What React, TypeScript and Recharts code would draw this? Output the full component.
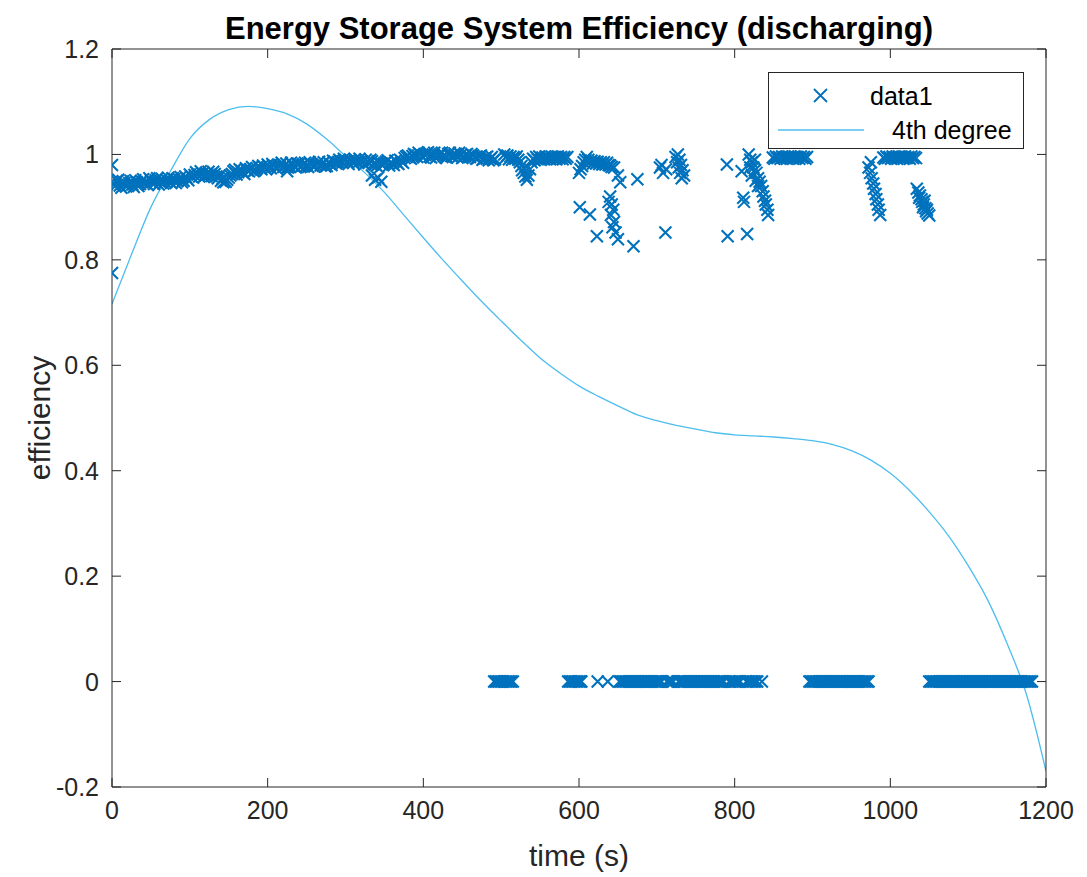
import React from 'react';
import {
  ComposedChart,
  Scatter,
  Line,
  XAxis,
  YAxis,
  Legend,
} from 'recharts';

// --- data ------------------------------------------------------------------

// dense upper band, t = 0 .. 492 s
const upperBand: [number, number][] = [
  [0, 0.948], [4, 0.94], [8, 0.952], [12, 0.937], [16, 0.946], [20, 0.942], [24, 0.95], [28, 0.938],
  [32, 0.947], [36, 0.944], [40, 0.953], [44, 0.945], [48, 0.955], [52, 0.947], [56, 0.951], [60, 0.943],
  [64, 0.954], [68, 0.948], [72, 0.956], [76, 0.946], [80, 0.953], [84, 0.949], [88, 0.957], [92, 0.95],
  [96, 0.955], [100, 0.962], [104, 0.956], [108, 0.966], [112, 0.958], [116, 0.964], [120, 0.96], [124, 0.967],
  [128, 0.959], [132, 0.963], [136, 0.955], [140, 0.95], [144, 0.957], [148, 0.952], [152, 0.96], [156, 0.968],
  [160, 0.962], [164, 0.972], [168, 0.966], [172, 0.974], [176, 0.968], [180, 0.976], [184, 0.97], [188, 0.978],
  [192, 0.972], [196, 0.975], [200, 0.981], [204, 0.974], [208, 0.979], [212, 0.973], [216, 0.98], [220, 0.976],
  [224, 0.983], [228, 0.977], [232, 0.981], [236, 0.975], [240, 0.982], [244, 0.978], [248, 0.984], [252, 0.976],
  [256, 0.981], [260, 0.977], [264, 0.983], [268, 0.979], [272, 0.985], [276, 0.978], [280, 0.982], [284, 0.988],
  [288, 0.983], [292, 0.99], [296, 0.984], [300, 0.989], [304, 0.982], [308, 0.987], [312, 0.991], [316, 0.984],
  [320, 0.988], [324, 0.981], [328, 0.986], [332, 0.99], [336, 0.983], [340, 0.978], [344, 0.984], [348, 0.98],
  [352, 0.986], [356, 0.979], [360, 0.983], [364, 0.988], [368, 0.982], [372, 0.987], [376, 0.993], [380, 0.998],
  [384, 0.992], [388, 1.001], [392, 0.995], [396, 1.0], [400, 0.994], [404, 1.002], [408, 0.996], [412, 1.0],
  [416, 0.993], [420, 0.999], [424, 1.003], [428, 0.995], [432, 1.001], [436, 0.997], [440, 1.002], [444, 0.994],
  [448, 0.999], [452, 0.996], [456, 1.001], [460, 0.995], [464, 0.998], [468, 0.992], [472, 0.996], [476, 0.99],
  [480, 0.994], [484, 0.989], [488, 0.995], [492, 0.991],
];

// the same band, samples in between
const upperBandMid: [number, number][] = [
  [2, 0.944], [6, 0.95], [10, 0.941], [14, 0.949], [18, 0.939], [22, 0.946], [26, 0.943], [30, 0.951],
  [34, 0.94], [38, 0.949], [42, 0.947], [46, 0.942], [50, 0.951], [54, 0.944], [58, 0.955], [62, 0.948],
  [66, 0.945], [70, 0.952], [74, 0.949], [78, 0.955], [82, 0.946], [86, 0.953], [90, 0.947], [94, 0.958],
  [98, 0.951], [102, 0.958], [106, 0.961], [110, 0.962], [114, 0.968], [118, 0.957], [122, 0.963], [126, 0.962],
  [130, 0.967], [134, 0.958], [138, 0.96], [142, 0.954], [146, 0.948], [150, 0.956], [154, 0.963], [158, 0.971],
  [162, 0.966], [166, 0.969], [170, 0.963], [174, 0.97], [178, 0.972], [182, 0.968], [186, 0.974], [190, 0.975],
  [194, 0.979], [198, 0.972], [202, 0.977], [206, 0.982], [210, 0.976], [214, 0.977], [218, 0.984], [222, 0.979],
  [226, 0.975], [230, 0.984], [234, 0.978], [238, 0.983], [242, 0.976], [246, 0.981], [250, 0.979], [254, 0.985],
  [258, 0.978], [262, 0.98], [266, 0.986], [270, 0.981], [274, 0.977], [278, 0.985], [282, 0.98], [286, 0.986],
  [290, 0.985], [294, 0.987], [298, 0.992], [302, 0.986], [306, 0.99], [310, 0.984], [314, 0.988], [318, 0.992],
  [322, 0.985], [326, 0.99], [330, 0.984], [334, 0.987], [338, 0.981], [342, 0.987], [346, 0.982], [350, 0.983],
  [354, 0.989], [358, 0.984], [362, 0.98], [366, 0.985], [370, 0.99], [374, 0.984], [378, 0.996], [382, 0.994],
  [386, 0.997], [390, 0.999], [394, 1.003], [398, 0.997], [402, 0.999], [406, 1.004], [410, 0.994], [414, 1.003],
  [418, 0.997], [422, 1.001], [426, 0.998], [430, 0.994], [434, 1.003], [438, 0.995], [442, 0.999], [446, 1.003],
  [450, 0.993], [454, 0.999], [458, 0.997], [462, 1.001], [466, 0.995], [470, 0.993], [474, 0.998], [478, 0.992],
  [482, 0.996], [486, 0.992], [490, 0.989],
];

// loose points in the upper band and the outliers under it
const upperLoose: [number, number][] = [
  [0, 0.98], [0, 0.775], [143, 0.947], [225, 0.968],
  [334, 0.96], [338, 0.952], [342, 0.956], [346, 0.948],
  [504, 1.0], [506, 0.994], [508, 0.998], [510, 0.991], [512, 0.996], [514, 0.99], [516, 0.995], [518, 0.992],
  [520, 0.996], [522, 0.99], [524, 0.985], [526, 0.978], [527, 0.97], [529, 0.965], [531, 0.958], [533, 0.952],
  [535, 0.96], [537, 0.972], [539, 0.985], [541, 0.992], [543, 0.989], [545, 0.995], [547, 0.991], [549, 0.996],
  [551, 0.99], [553, 0.994], [555, 0.991], [557, 0.996], [559, 0.992], [561, 0.995], [563, 0.991], [565, 0.996],
  [567, 0.992], [569, 0.995], [571, 0.991], [573, 0.996], [575, 0.992], [577, 0.995], [579, 0.991], [581, 0.995],
  [583, 0.992], [585, 0.995],
  [600, 0.965], [602, 0.972], [604, 0.978], [606, 0.985], [608, 0.99], [610, 0.995], [612, 0.99], [614, 0.985],
  [616, 0.988], [618, 0.983], [620, 0.987], [622, 0.983], [624, 0.986], [626, 0.982], [628, 0.985], [630, 0.981],
  [632, 0.985], [634, 0.981], [636, 0.984], [638, 0.98], [640, 0.979], [642, 0.976], [645, 0.975], [650, 0.96],
  [653, 0.947], [675, 0.953],
  [601, 0.9], [614, 0.886], [623, 0.845], [638, 0.91], [640, 0.92], [642, 0.905], [644, 0.895], [641, 0.885],
  [645, 0.872], [643, 0.862], [647, 0.852], [650, 0.839], [670, 0.826],
  [704, 0.975], [706, 0.98], [708, 0.965], [712, 0.972], [711, 0.852],
  [724, 0.995], [726, 0.985], [727, 1.0], [728, 0.975], [729, 0.99], [730, 0.965], [731, 0.98], [732, 0.955],
  [733, 0.97], [735, 0.96],
  [790, 0.981], [809, 0.968], [811, 0.918], [812, 0.91], [791, 0.845], [816, 0.849],
  [818, 1.0], [820, 0.99], [820, 0.975], [822, 0.985], [822, 0.96], [824, 0.975], [826, 0.97], [826, 0.99],
  [827, 0.95], [828, 0.965], [830, 0.955], [830, 0.94], [832, 0.948], [834, 0.94], [836, 0.93], [837, 0.92],
  [839, 0.912], [840, 0.905], [842, 0.895], [843, 0.885],
  [849, 0.994], [851, 0.992], [853, 0.996], [855, 0.993], [857, 0.995], [859, 0.992], [861, 0.996], [863, 0.993],
  [865, 0.995], [867, 0.992], [869, 0.996], [871, 0.993], [873, 0.995], [875, 0.992], [877, 0.996], [879, 0.993],
  [881, 0.995], [883, 0.992], [885, 0.996], [887, 0.993], [889, 0.995], [891, 0.992], [893, 0.995],
  [972, 0.975], [974, 0.965], [975, 0.985], [976, 0.955], [978, 0.945], [979, 0.935], [981, 0.925], [982, 0.915],
  [984, 0.905], [985, 0.895], [987, 0.885],
  [991, 0.994], [993, 0.992], [995, 0.996], [997, 0.993], [999, 0.995], [1001, 0.992], [1003, 0.996],
  [1005, 0.993], [1007, 0.995], [1009, 0.992], [1011, 0.996], [1013, 0.993], [1015, 0.995], [1017, 0.992],
  [1019, 0.996], [1021, 0.993], [1023, 0.995], [1025, 0.992], [1027, 0.996], [1029, 0.993], [1031, 0.995],
  [1033, 0.993],
  [1034, 0.935], [1036, 0.928], [1037, 0.918], [1038, 0.922], [1040, 0.915], [1041, 0.91], [1042, 0.9],
  [1043, 0.905], [1044, 0.912], [1045, 0.898], [1046, 0.892], [1047, 0.895], [1048, 0.888], [1050, 0.884],
];

// times where the efficiency is exactly zero
const zeroRunA = [491, 493, 495, 497, 499, 501, 503, 505, 507, 509, 511, 513, 515];
const zeroRunB = [586, 588, 590, 592, 594, 596, 598, 600, 602, 603];
const zeroLone = [624, 637, 835];
const zeroRunC = [
  652, 654, 656, 658, 660, 662, 664, 666, 668, 670, 672, 674, 676, 678, 680, 682, 684, 686, 688, 690, 692,
  694, 696, 698, 700, 702, 704, 706, 713, 715, 717, 719, 721, 728, 730, 732, 734, 736, 738, 740, 742, 744,
  746, 748, 750, 752, 754, 756, 758, 760, 762, 764, 766, 768, 770, 772, 774, 776, 778, 780, 782, 784, 786,
  793, 795, 797, 799, 801, 803, 805, 807, 815, 817, 819, 821, 823, 825, 827, 829,
];
const zeroRunD = [
  896, 898, 900, 902, 904, 906, 908, 910, 912, 914, 916, 918, 920, 922, 924, 926, 928, 930, 932, 934, 936,
  938, 940, 942, 944, 946, 948, 950, 952, 954, 956, 958, 960, 962, 964, 966, 968, 970, 972,
];
const zeroRunE = [
  1050, 1052, 1054, 1056, 1058, 1060, 1062, 1064, 1066, 1068, 1070, 1072, 1074, 1076, 1078, 1080, 1082,
  1084, 1086, 1088, 1090, 1092, 1094, 1096, 1098, 1100, 1102, 1104, 1106, 1108, 1110, 1112, 1114, 1116,
  1118, 1120, 1122, 1124, 1126, 1128, 1130, 1132, 1134, 1136, 1138, 1140, 1142, 1144, 1146, 1148, 1150,
  1152, 1154, 1156, 1158, 1160, 1162, 1164, 1166, 1168, 1170, 1172, 1174, 1176, 1178, 1180, 1182,
];

// 4th degree fit
const fitT = [
  0, 25, 50, 75, 100, 125, 150, 175, 200, 225, 250, 275, 300, 325, 350, 375, 400, 425, 450, 475, 500,
  525, 550, 575, 600, 625, 650, 675, 700, 725, 750, 775, 800, 825, 850, 875, 900, 925, 950, 975, 1000,
  1025, 1050, 1075, 1100, 1125, 1150, 1175, 1200,
];
const fitEff = [
  0.716, 0.81, 0.9, 0.968, 1.03, 1.066, 1.085, 1.091, 1.087, 1.077, 1.058, 1.03, 0.997, 0.965, 0.928,
  0.885, 0.842, 0.8, 0.76, 0.721, 0.684, 0.648, 0.614, 0.586, 0.561, 0.541, 0.523, 0.506, 0.495, 0.486,
  0.479, 0.472, 0.468, 0.466, 0.464, 0.461, 0.457, 0.45, 0.438, 0.42, 0.395, 0.362, 0.322, 0.276, 0.22,
  0.155, 0.072, -0.025, -0.17,
];

const xTicks = [0, 200, 400, 600, 800, 1000, 1200];
const yTicks = [-0.2, 0, 0.2, 0.4, 0.6, 0.8, 1, 1.2];
const yTickLabels = ['-0.2', '0', '0.2', '0.4', '0.6', '0.8', '1', '1.2'];

// --- styling ---------------------------------------------------------------

const MARK = '#0072BD';
const FIT = '#4DBEEE';
const INK = '#262626';
const FONT = '"Liberation Sans", Arial, Helvetica, sans-serif';
const TICK_FONT = 25;
const LABEL_FONT = 30;
const TICK_LEN = 9;
const Y_GAP = 13;
const X_GAP = 14;

const scatterData = [
  ...upperBand.map(([x, y]) => ({ x, y })),
  ...upperBandMid.map(([x, y]) => ({ x, y })),
  ...upperLoose.map(([x, y]) => ({ x, y })),
  ...[...zeroRunA, ...zeroRunB, ...zeroLone, ...zeroRunC, ...zeroRunD, ...zeroRunE].map((x) => ({ x, y: 0 })),
];
const fitData = fitT.map((x, i) => ({ x, y: fitEff[i] }));

const Cross = (props: any) => {
  const { cx, cy } = props;
  const r = 6;
  return (
    <path
      d={`M${cx - r},${cy - r}L${cx + r},${cy + r}M${cx - r},${cy + r}L${cx + r},${cy - r}`}
      stroke={MARK}
      strokeWidth={2.1}
      fill="none"
    />
  );
};

const LeftTick = (props: any) => {
  const { x, y, index } = props;
  return (
    <g>
      <line x1={x + Y_GAP} x2={x + Y_GAP + TICK_LEN} y1={y} y2={y} stroke={INK} />
      <text x={x} y={y} dy="0.36em" textAnchor="end" fill={INK} fontSize={TICK_FONT} fontFamily={FONT}>
        {yTickLabels[index]}
      </text>
    </g>
  );
};

const RightTick = (props: any) => {
  const { x, y } = props;
  return <line x1={x} x2={x - TICK_LEN} y1={y} y2={y} stroke={INK} />;
};

const BottomTick = (props: any) => {
  const { x, y, payload } = props;
  return (
    <g>
      <line x1={x} x2={x} y1={y - X_GAP} y2={y - X_GAP - TICK_LEN} stroke={INK} />
      <text x={x} y={y} dy="0.72em" textAnchor="middle" fill={INK} fontSize={TICK_FONT} fontFamily={FONT}>
        {payload.value}
      </text>
    </g>
  );
};

const TopTick = (props: any) => {
  const { x, y } = props;
  return <line x1={x} x2={x} y1={y} y2={y + TICK_LEN} stroke={INK} />;
};

const YLabel = (props: any) => {
  const { viewBox } = props;
  const cx = viewBox.x + 50;
  const cy = viewBox.y + viewBox.height / 2;
  return (
    <text
      x={cx}
      y={cy}
      transform={`rotate(-90 ${cx} ${cy})`}
      textAnchor="middle"
      fill={INK}
      fontSize={LABEL_FONT}
      fontFamily={FONT}
    >
      efficiency
    </text>
  );
};

const XLabel = (props: any) => {
  const { viewBox } = props;
  const cx = viewBox.x + viewBox.width / 2;
  return (
    <text x={cx} y={viewBox.y + 79} textAnchor="middle" fill={INK} fontSize={LABEL_FONT} fontFamily={FONT}>
      time (s)
    </text>
  );
};

const LegendBox = (props: any) => {
  const { payload = [] } = props;
  // markers first, fit line second, as in the original
  const ordered = [...payload].sort((a: any, b: any) => (a.type === 'line' ? 1 : 0) - (b.type === 'line' ? 1 : 0));
  const rows = ordered.map((entry: any, i: number) => {
    const isLine = entry.type === 'line';
    return (
      <div key={i} style={{ position: 'absolute', left: 0, top: i === 0 ? 6 : 40, height: 34, width: '100%' }}>
        <svg width={100} height={34} style={{ position: 'absolute', left: 0, top: 0 }}>
          {isLine ? (
            <line x1={9} x2={95} y1={17} y2={17} stroke={FIT} strokeWidth={1.5} />
          ) : (
            <path d="M45,10L58,23M45,23L58,10" stroke={MARK} strokeWidth={1.8} fill="none" />
          )}
        </svg>
        <span style={{ position: 'absolute', left: isLine ? 123 : 101, top: 0, lineHeight: '34px', whiteSpace: 'nowrap' }}>
          {entry.value}
        </span>
      </div>
    );
  });
  return (
    <div
      style={{
        position: 'relative',
        width: 254,
        height: 75,
        border: `1px solid ${INK}`,
        background: '#fff',
        fontFamily: FONT,
        fontSize: 25,
        color: '#000',
      }}
    >
      {rows}
    </div>
  );
};

export default function App() {
  return (
    <div style={{ position: 'absolute', left: 0, top: 0, width: 1087, height: 877, background: '#fff' }}>
      <div
        style={{
          position: 'absolute',
          left: 112,
          width: 934,
          top: 11,
          textAlign: 'center',
          fontFamily: FONT,
          fontWeight: 'bold',
          fontSize: 31,
          lineHeight: '36px',
          color: '#000',
          whiteSpace: 'nowrap',
        }}
      >
        Energy Storage System Efficiency (discharging)
      </div>
      <ComposedChart width={1087} height={877} margin={{ top: 0, right: 0, bottom: 0, left: 0 }}>
        <XAxis
          xAxisId="top"
          orientation="top"
          type="number"
          dataKey="x"
          domain={[0, 1200]}
          ticks={xTicks}
          height={49}
          allowDataOverflow
          tickSize={0}
          tickMargin={0}
          tick={<TopTick />}
          axisLine={{ stroke: INK }}
        />
        <XAxis
          type="number"
          dataKey="x"
          domain={[0, 1200]}
          ticks={xTicks}
          height={90}
          allowDataOverflow
          tickSize={0}
          tickMargin={X_GAP}
          tick={<BottomTick />}
          axisLine={{ stroke: INK }}
          label={<XLabel />}
        />
        <YAxis
          type="number"
          domain={[-0.2, 1.2]}
          ticks={yTicks}
          width={112}
          allowDataOverflow
          tickSize={0}
          tickMargin={Y_GAP}
          tick={<LeftTick />}
          axisLine={{ stroke: INK }}
          label={<YLabel />}
        />
        <YAxis
          yAxisId="right"
          orientation="right"
          type="number"
          domain={[-0.2, 1.2]}
          ticks={yTicks}
          width={41}
          allowDataOverflow
          tickSize={0}
          tickMargin={0}
          tick={<RightTick />}
          axisLine={{ stroke: INK }}
        />
        <Legend
          layout="horizontal"
          verticalAlign="middle"
          align="center"
          content={<LegendBox />}
          wrapperStyle={{ position: 'absolute', left: 768, top: 72, width: 256, height: 77 }}
        />
        <Scatter
          name="data1"
          data={scatterData}
          dataKey="y"
          shape={<Cross />}
          isAnimationActive={false}
        />
        <Line
          name="4th degree"
          data={fitData}
          dataKey="y"
          type="monotone"
          dot={false}
          activeDot={false}
          stroke={FIT}
          strokeWidth={1.3}
          legendType="line"
          isAnimationActive={false}
        />
      </ComposedChart>
    </div>
  );
}
